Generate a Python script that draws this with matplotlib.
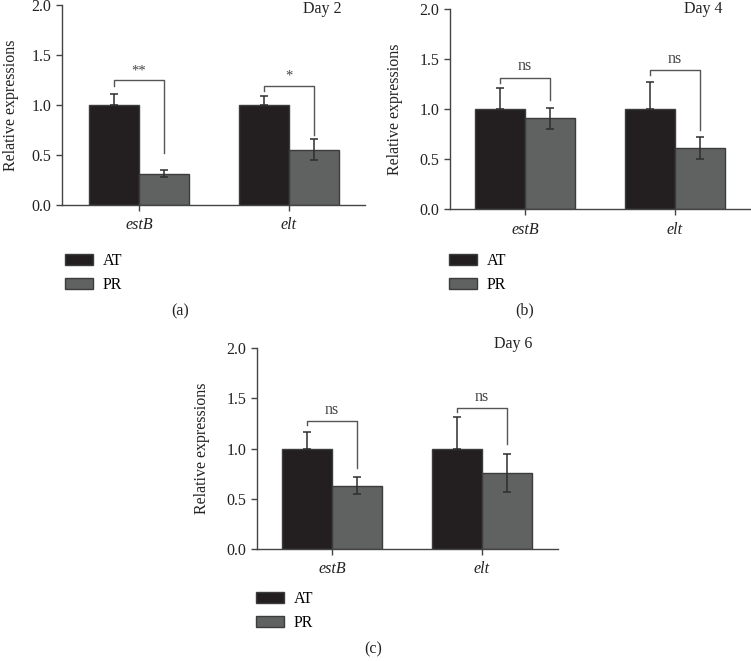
import matplotlib
matplotlib.use("Agg")
import matplotlib.pyplot as plt
import numpy as np

plt.rcParams['font.family'] = ['Liberation Serif', 'DejaVu Serif']

genes = ["estB", "elt"]
series = ["AT", "PR"]
days = ["Day 2", "Day 4", "Day 6"]
panel_tags = ["(a)", "(b)", "(c)"]

at_mean = [[1.00, 1.00], [1.00, 1.00], [1.00, 1.00]]
at_err = [[0.11, 0.087], [0.216, 0.273], [0.167, 0.31]]
pr_mean = [[0.31, 0.55], [0.91, 0.61], [0.63, 0.76]]
pr_err = [[0.035, 0.105], [0.105, 0.11], [0.085, 0.19]]

sig_labels = [["**", "*"], ["ns", "ns"], ["ns", "ns"]]
bracket_top = [[1.247, 1.19], [1.316, 1.39], [1.273, 1.403]]
bracket_left = [[1.19, 1.14], [1.266, 1.34], [1.237, 1.36]]
bracket_right = [[0.52, 0.70], [1.093, 0.793], [0.81, 1.047]]

W, H = 751, 661
fig = plt.figure(figsize=(W / 100, H / 100), dpi=100)

# axes boxes in pixels: left, right, top, bottom
boxes = [(62, 365, 5, 205), (450, 750, 9, 209.3), (257, 558, 348.3, 548.7)]
xlims = [(-0.513, 1.507), (-0.5, 1.5), (-0.5, 1.507)]
legend_pos = [(65, 253), (449, 253), (256, 591)]
tag_pos = [(180, 311), (525, 310), (373, 649)]
day_pos = [(322, 1, 'top'), (703, 1, 'top'), (513, 344, 'center')]
ylabel_x = [11, 395, 202]

at_color = "#231f20"
pr_color = "#606161"
edge = "#3c3c3c"
err_color = "#2e2e2e"
brk_color = "#555555"
fs = 11.5

x = np.arange(len(genes))
bw = 1 / 3

for i in range(3):
    l, r, t, b = boxes[i]
    ax = fig.add_axes([l / W, 1 - b / H, (r - l) / W, (b - t) / H])
    b1 = ax.bar(x - bw / 2, at_mean[i], bw, color=at_color, edgecolor=edge, linewidth=1.0, label=series[0], zorder=2)
    b2 = ax.bar(x + bw / 2, pr_mean[i], bw, color=pr_color, edgecolor=edge, linewidth=1.0, label=series[1], zorder=2)
    ax.errorbar(x - bw / 2, at_mean[i], yerr=[np.zeros(2), at_err[i]], fmt='none', ecolor=err_color,
                elinewidth=1.1, capsize=3.2, capthick=1.1, zorder=3)
    ax.errorbar(x + bw / 2, pr_mean[i], yerr=pr_err[i], fmt='none', ecolor=err_color,
                elinewidth=1.1, capsize=3.2, capthick=1.1, zorder=3)
    for j in range(2):
        xl = x[j] - bw / 2
        xr = x[j] + bw / 2
        ax.plot([xl, xl, xr, xr], [bracket_left[i][j], bracket_top[i][j], bracket_top[i][j], bracket_right[i][j]],
                color=brk_color, lw=1.0, zorder=4)
        ax.text(x[j], bracket_top[i][j] + 0.03, sig_labels[i][j], ha='center', va='bottom',
                fontsize=fs if sig_labels[i][j] == "ns" else 10.5, color="#444444")
    ax.set_xlim(*xlims[i])
    ax.set_ylim(0, 2.0)
    ax.set_yticks([0, 0.5, 1.0, 1.5, 2.0])
    ax.set_yticklabels(["0.0", "0.5", "1.0", "1.5", "2.0"], fontsize=fs)
    ax.set_xticks(x)
    ax.set_xticklabels(genes, fontsize=fs, style='italic')
    for s in ["top", "right"]:
        ax.spines[s].set_visible(False)
    for s in ["left", "bottom"]:
        ax.spines[s].set_color("#444444")
        ax.spines[s].set_linewidth(1.0)
    ax.tick_params(axis='both', colors="#444444", labelcolor="#222222", length=4, width=1.0)
    ax.tick_params(axis='x', pad=5)
    dx, dy, dva = day_pos[i]
    fig.text(dx / W, 1 - dy / H, days[i], ha='center', va=dva, fontsize=fs, color="#222222")
    fig.text(ylabel_x[i] / W, 1 - (t + b) / 2 / H, "Relative expressions", rotation=90,
             ha='center', va='center', fontsize=fs, color="#222222")
    lx, ly = legend_pos[i]
    ax.legend(handles=[b1, b2], loc='upper left', bbox_to_anchor=(lx / W, 1 - ly / H),
              bbox_transform=fig.transFigure, frameon=False, fontsize=fs, handlelength=1.75,
              handleheight=0.68, labelspacing=0.5, handletextpad=0.6, borderpad=0, borderaxespad=0)
    fig.text(tag_pos[i][0] / W, 1 - tag_pos[i][1] / H, panel_tags[i], ha='center', va='center',
             fontsize=fs, color="#222222")

fig.savefig("out.png", dpi=100)
